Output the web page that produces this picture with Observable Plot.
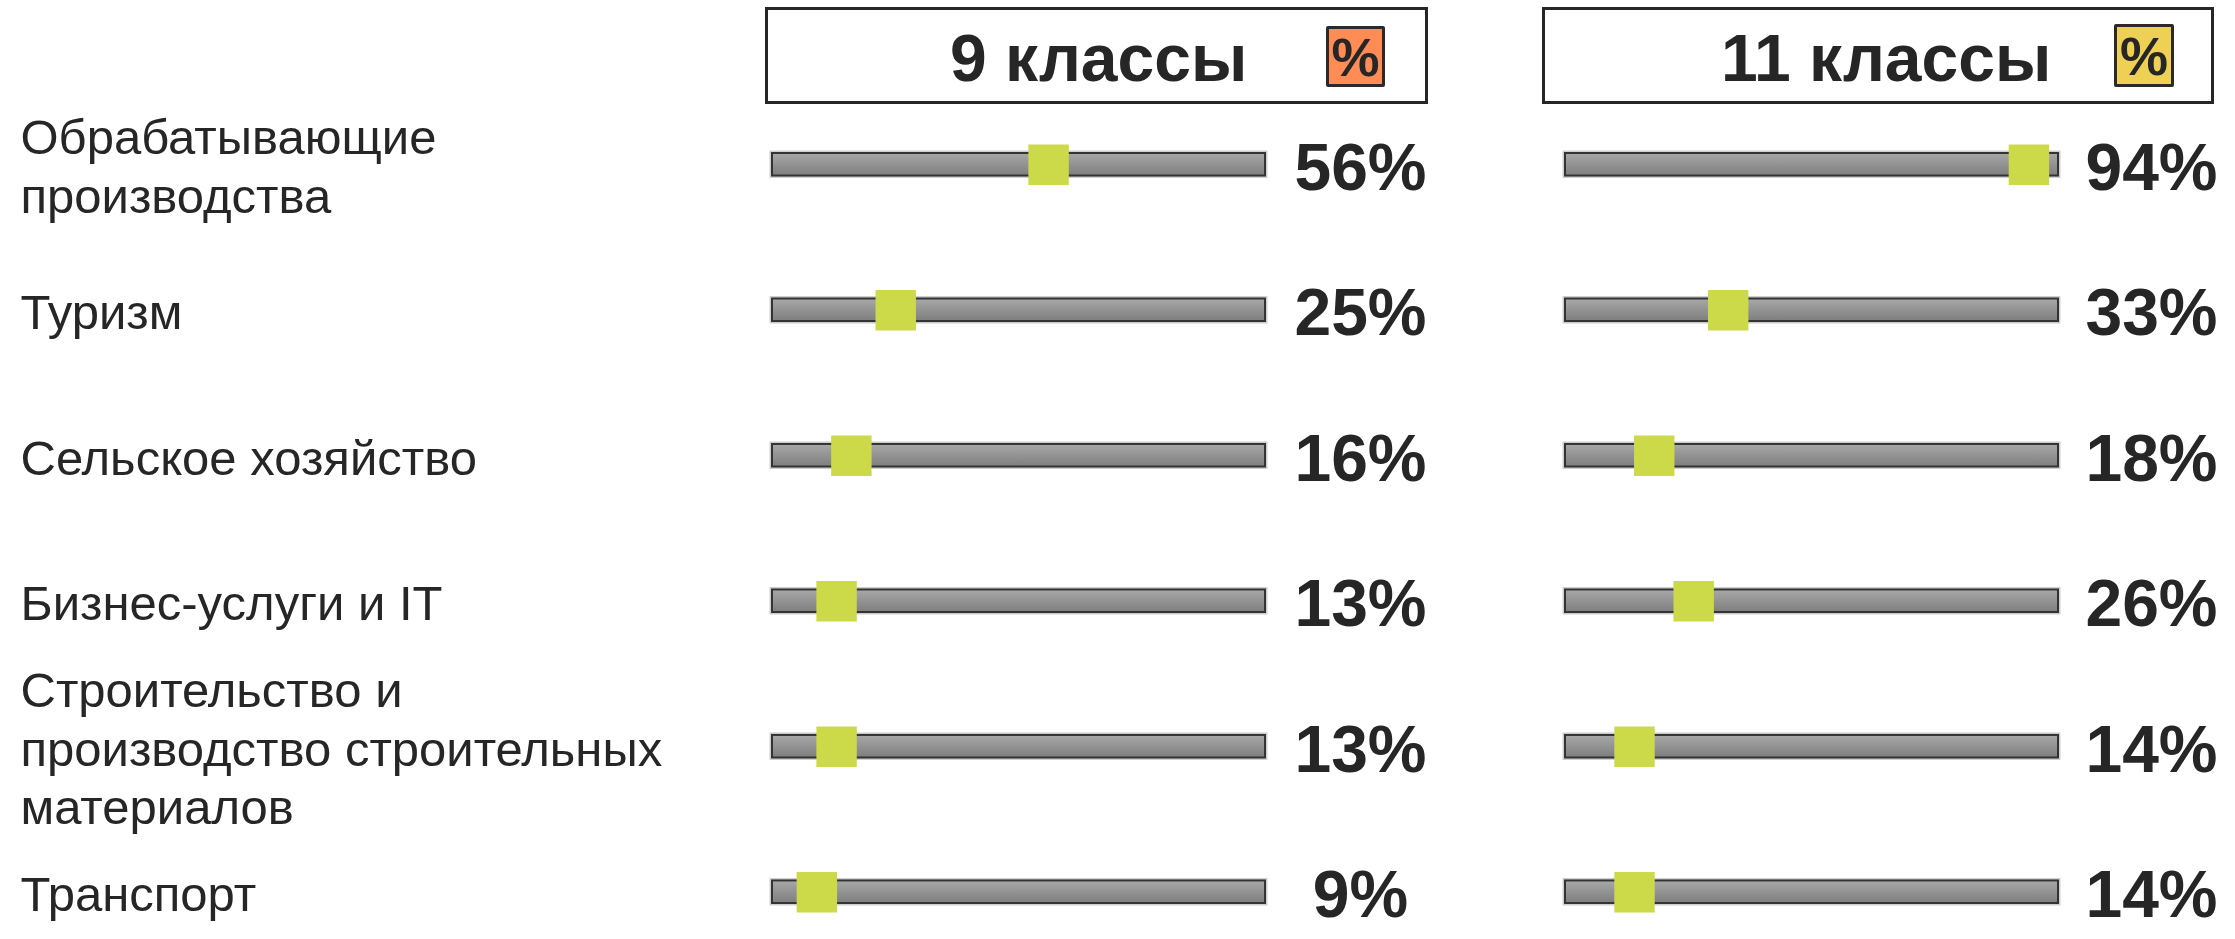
<!DOCTYPE html>
<html>
<head>
<meta charset="utf-8">
<script src="https://cdn.jsdelivr.net/npm/d3@7"></script>
<script src="https://cdn.jsdelivr.net/npm/@observablehq/plot@0.6"></script>
<style>
html, body { margin: 0; padding: 0; background: #fff; }
#root { position: relative; width: 2235px; height: 939px; overflow: hidden;
  font-family: "Liberation Sans", Arial, sans-serif; color: #262626; background: #fff; }
#head { position: relative; height: 110px; }
.box { position: absolute; top: 7px; height: 97px; box-sizing: border-box; border: 3px solid #262626; background: #fff; }
.title { position: absolute; top: 25px; font-weight: bold; font-size: 66px; line-height: 1; white-space: nowrap; }
.badge { position: absolute; box-sizing: border-box; border: 3px solid #2a2a2a; border-radius: 2px;
  font-weight: bold; font-size: 54px; line-height: 1; display: flex; align-items: center; justify-content: center; }
#row { display: flex; }
</style>
</head>
<body>
<div id="root">
  <div id="head"></div>
  <div id="row"></div>
</div>
<script>
// ---- data ----
const categories = [
  "Обрабатывающие\nпроизводства",
  "Туризм",
  "Сельское хозяйство",
  "Бизнес-услуги и IT",
  "Строительство и\nпроизводство строительных\nматериалов",
  "Транспорт"
];
const grade9 = [56, 25, 16, 13, 13, 9];
const grade11 = [94, 33, 18, 26, 14, 14];
const panelTitles = ["9 классы", "11 классы"];
const badgeText = "%";
const scaleMax = 100;

// ---- header (HTML above the SVG) ----
const head = document.getElementById("head");
const headerLayout = [
  {box: [765, 663], title: 950, badge: [1326, 26, 59, 61], color: "#FF8C55"},
  {box: [1542, 672], title: 1721, badge: [2114, 24, 60, 63], color: "#EED154"}
];
panelTitles.forEach((t, i) => {
  const L = headerLayout[i];
  const box = document.createElement("div");
  box.className = "box";
  box.style.left = L.box[0] + "px";
  box.style.width = L.box[1] + "px";
  head.appendChild(box);
  const title = document.createElement("div");
  title.className = "title";
  title.style.left = L.title + "px";
  title.textContent = t;
  head.appendChild(title);
  const b = document.createElement("div");
  b.className = "badge";
  b.style.left = L.badge[0] + "px";
  b.style.top = L.badge[1] + "px";
  b.style.width = L.badge[2] + "px";
  b.style.height = L.badge[3] + "px";
  b.style.background = L.color;
  b.textContent = badgeText;
  head.appendChild(b);
});

// ---- charts ----
const H = 829;
const yOpts = {type: "band", domain: categories, paddingInner: 0.845, paddingOuter: 0, align: 0.5, round: false, axis: null};

function panel(values, {width, marginLeft, marginRight, labels, gradId, valueDx}) {
  const data = categories.map((c, i) => ({category: c, value: values[i]}));
  const marks = [
    Plot.barX(data, {y: "category", x: () => scaleMax, fill: "none", stroke: "#cfcfcf", strokeWidth: 5}),
    Plot.barX(data, {y: "category", x: () => scaleMax, fill: `url(#${gradId})`, stroke: "#333", strokeWidth: 2}),
    Plot.dot(data, {y: "category", x: "value", symbol: "square", r: 22.8, fill: "#CCDA4A", stroke: "none"}),
    Plot.text(data, {y: "category", frameAnchor: "right", dx: valueDx, dy: 4, text: d => `${d.value}%`,
      fontSize: 66, fontWeight: "bold", fill: "#262626", textAnchor: "middle"})
  ];
  if (labels) {
    marks.push(Plot.text(categories, {y: d => d, frameAnchor: "left", dx: -752, textAnchor: "start",
      fontSize: 49, lineHeight: 1.2, fill: "#262626"}));
  }
  const svg = Plot.plot({
    width, height: H,
    marginLeft, marginRight, marginTop: 43, marginBottom: 36,
    x: {domain: [0, scaleMax], axis: null},
    y: yOpts,
    style: {fontFamily: "Liberation Sans, Arial, sans-serif", background: "#fff", overflow: "visible"},
    marks
  });
  const defs = d3.select(svg).insert("defs", ":first-child");
  const g = defs.append("linearGradient").attr("id", gradId).attr("x1", 0).attr("y1", 0).attr("x2", 0).attr("y2", 1);
  g.append("stop").attr("offset", "0%").attr("stop-color", "#A8A8A8");
  g.append("stop").attr("offset", "100%").attr("stop-color", "#7E7E7E");
  return svg;
}

const row = document.getElementById("row");
row.appendChild(panel(grade9, {width: 1480, marginLeft: 772, marginRight: 215, labels: true, gradId: "grad9", valueDx: 95}));
row.appendChild(panel(grade11, {width: 755, marginLeft: 85, marginRight: 177, labels: false, gradId: "grad11", valueDx: 93}));
</script>
</body>
</html>
